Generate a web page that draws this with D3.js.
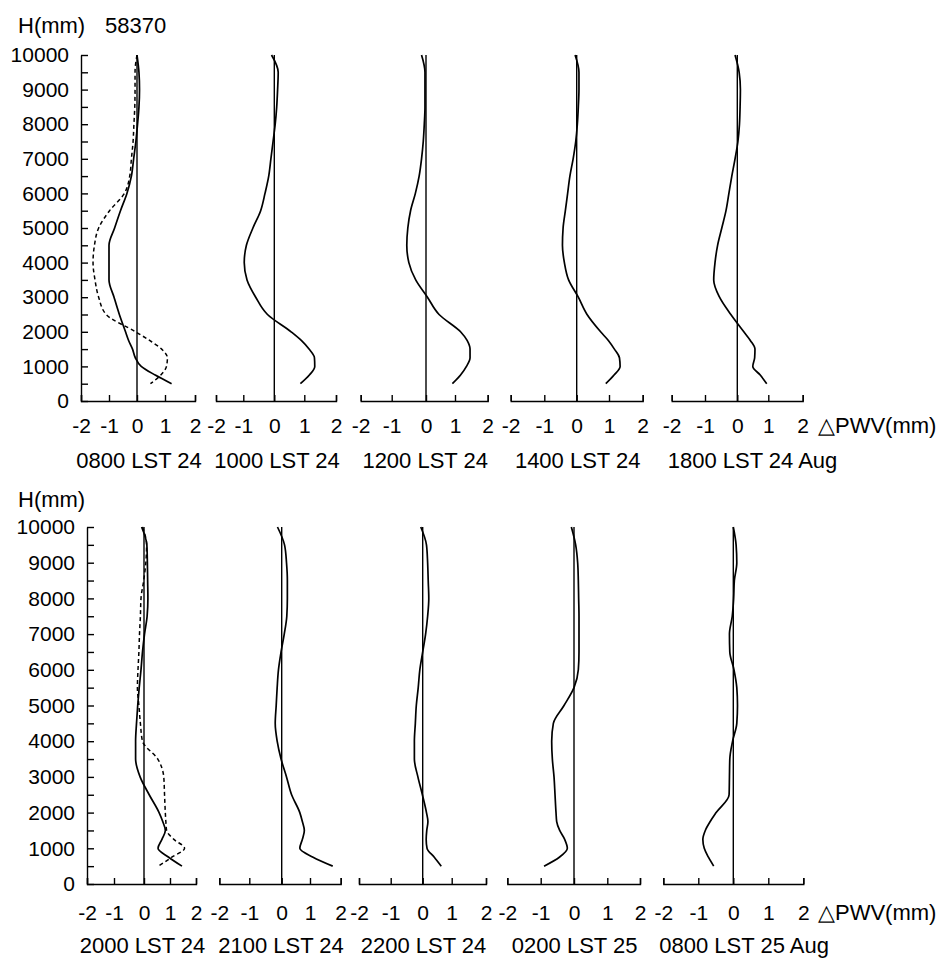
<!DOCTYPE html>
<html>
<head>
<meta charset="utf-8">
<script src="https://cdn.jsdelivr.net/npm/d3@7"></script>
<style>
body { margin: 0; background: #fff; }
svg text { font-family: "Liberation Sans", Arial, sans-serif; fill: #000; }
</style>
</head>
<body>
<svg width="948" height="958"></svg>
<script>
// heights (mm) shared by every profile, top to bottom
var heights = [10000, 9500, 9000, 8500, 8000, 7500, 7000, 6500, 6000, 5500, 5000,
               4500, 4000, 3500, 3000, 2500, 2000, 1750, 1500, 1250, 1000, 750, 500];

var xTicks = [-2, -1, 0, 1, 2];
var yTicks = d3.range(0, 10001, 500);
var station = "58370";
var topLabels = ["0800 LST 24", "1000 LST 24", "1200 LST 24", "1400 LST 24", "1800 LST 24 Aug"];
var bottomLabels = ["2000 LST 24", "2100 LST 24", "2200 LST 24", "0200 LST 25", "0800 LST 25 Aug"];

// delta PWV (mm) profiles, solid lines
var pwv0800_24 = [0.0, 0.07, 0.09, 0.07, 0.02, -0.04, -0.12, -0.2, -0.36, -0.59, -0.8,
                  -1.0, -1.0, -1.0, -0.82, -0.63, -0.41, -0.3, -0.16, -0.06, 0.15, 0.65, 1.22];
var pwv1000_24 = [-0.09, 0.13, 0.11, 0.08, 0.03, -0.04, -0.11, -0.18, -0.3, -0.44, -0.69,
                  -0.9, -0.97, -0.88, -0.6, -0.22, 0.56, 0.9, 1.15, 1.32, 1.33, 1.16, 0.87];
var pwv1200_24 = [-0.13, -0.03, -0.03, -0.03, -0.05, -0.08, -0.13, -0.2, -0.31, -0.45, -0.53,
                  -0.56, -0.5, -0.3, 0.05, 0.45, 1.17, 1.37, 1.46, 1.46, 1.35, 1.17, 0.91];
var pwv1400_24 = [-0.05, 0.07, 0.07, 0.05, 0.02, -0.03, -0.11, -0.21, -0.28, -0.35, -0.42,
                  -0.44, -0.38, -0.25, 0.05, 0.32, 0.74, 0.98, 1.16, 1.31, 1.33, 1.15, 0.9];
var pwv1800_24 = [-0.07, 0.06, 0.1, 0.09, 0.07, 0.02, -0.07, -0.17, -0.26, -0.35, -0.48,
                  -0.61, -0.69, -0.73, -0.55, -0.2, 0.21, 0.42, 0.57, 0.56, 0.5, 0.74, 0.95];
var pwv2000_24 = [-0.08, 0.11, 0.13, 0.14, 0.15, 0.12, 0.02, -0.05, -0.1, -0.16, -0.21,
                  -0.25, -0.28, -0.28, -0.13, 0.2, 0.58, 0.72, 0.82, 0.69, 0.54, 0.95, 1.46];
var pwv2100_24 = [-0.13, 0.1, 0.17, 0.2, 0.2, 0.18, 0.09, -0.02, -0.1, -0.14, -0.17,
                  -0.2, -0.14, -0.02, 0.17, 0.35, 0.64, 0.73, 0.8, 0.73, 0.64, 1.1, 1.74];
var pwv2200_24 = [-0.06, 0.13, 0.17, 0.19, 0.21, 0.17, 0.1, 0.0, -0.09, -0.14, -0.2,
                  -0.23, -0.26, -0.26, -0.15, -0.01, 0.13, 0.18, 0.14, 0.12, 0.15, 0.4, 0.64];
var pwv0200_25 = [-0.08, 0.05, 0.11, 0.13, 0.14, 0.15, 0.15, 0.15, 0.13, 0.0, -0.3,
                  -0.62, -0.67, -0.65, -0.6, -0.57, -0.54, -0.52, -0.43, -0.28, -0.2, -0.44, -0.9];
var pwv0800_25 = [0.0, 0.08, 0.1, 0.03, 0.01, -0.03, -0.11, -0.1, 0.02, 0.1, 0.12,
                  0.1, -0.02, -0.1, -0.11, -0.12, -0.49, -0.66, -0.8, -0.87, -0.83, -0.71, -0.56];

// dashed profiles
var pwv0800_24dash = [0.0, -0.07, -0.07, -0.08, -0.11, -0.14, -0.2, -0.26, -0.45, -0.98, -1.37,
                      -1.52, -1.57, -1.5, -1.37, -1.1, -0.05, 0.45, 0.88, 1.08, 1.05, 0.85, 0.48];
var pwv2000_24dash = [-0.05, 0.1, 0.07, -0.01, -0.1, -0.12, -0.15, -0.17, -0.2, -0.22, -0.17,
                      -0.12, -0.05, 0.53, 0.76, 0.79, 0.82, 0.84, 0.87, 1.15, 1.56, 1.07, 0.55];

var svg = d3.select("svg");

// tick positions of each small x axis (the panels are not evenly sized)
var topRanges = [[81, 109, 137, 165, 195], [216, 243.3, 274.3, 304.3, 336],
                 [360.7, 391.7, 426, 455, 487.7], [510.7, 544.3, 576.7, 609, 642.7],
                 [671.7, 705, 737.3, 768.3, 802.7]];
var bottomRanges = [[87, 114, 144, 170, 196], [219.3, 249.3, 281.7, 310, 340.7],
                    [359, 390.7, 422.7, 451.7, 486], [507.3, 540.7, 574, 607.3, 640],
                    [663.3, 698.3, 733.3, 768.3, 803.3]];

var rows = [
    {yRange: [401, 55], ranges: topRanges, labels: topLabels, headY: 33, tickPad: 17, labelY: 468,
     solid: [pwv0800_24, pwv1000_24, pwv1200_24, pwv1400_24, pwv1800_24],
     dashed: [pwv0800_24dash, null, null, null, null], station: true},
    {yRange: [884, 527], ranges: bottomRanges, labels: bottomLabels, headY: 507, tickPad: 21, labelY: 953,
     solid: [pwv2000_24, pwv2100_24, pwv2200_24, pwv0200_25, pwv0800_25],
     dashed: [pwv2000_24dash, null, null, null, null], station: false}
];

rows.forEach(function(row) {
    var y = d3.scaleLinear().domain([0, 10000]).range(row.yRange);
    var left = row.ranges[0][0];

    svg.append("text").attr("x", 18).attr("y", row.headY).attr("font-size", 22).text("H(mm)");
    if (row.station) {
        svg.append("text").attr("x", 105).attr("y", row.headY).attr("font-size", 22).text(station);
    }

    // height axis
    var yAxis = svg.append("g")
        .attr("transform", "translate(" + left + ",0)")
        .call(d3.axisLeft(y).tickValues(yTicks).tickSizeInner(-7).tickSizeOuter(0).tickPadding(12)
            .tickFormat(function(d) { return d % 1000 === 0 ? d : ""; }))
        .attr("font-size", 21).attr("font-family", null);
    yAxis.selectAll("path, line").attr("stroke-width", 1.4);

    row.ranges.forEach(function(range, i) {
        var x = d3.scaleLinear().domain(xTicks).range(range);

        var xAxis = svg.append("g")
            .attr("transform", "translate(0," + row.yRange[0] + ")")
            .call(d3.axisBottom(x).tickValues(xTicks).tickFormat(function(d) { return String(d); })
                .tickSizeInner(-6).tickSizeOuter(-6).tickPadding(row.tickPad))
            .attr("font-size", 21).attr("font-family", null);
        xAxis.selectAll("path, line").attr("stroke-width", 1.4);

        // zero reference line
        svg.append("line")
            .attr("x1", x(0)).attr("x2", x(0))
            .attr("y1", y(0)).attr("y2", y(10000))
            .attr("stroke", "#000").attr("stroke-width", 1.4);

        var line = d3.line()
            .x(function(d) { return x(d); })
            .y(function(d, j) { return y(heights[j]); })
            .curve(d3.curveMonotoneY);

        svg.append("path").datum(row.solid[i])
            .attr("d", line)
            .attr("fill", "none").attr("stroke", "#000").attr("stroke-width", 1.7);

        if (row.dashed[i]) {
            svg.append("path").datum(row.dashed[i])
                .attr("d", line)
                .attr("fill", "none").attr("stroke", "#000").attr("stroke-width", 1.5)
                .attr("stroke-dasharray", "4,3");
        }

        var last = i === row.ranges.length - 1;
        svg.append("text")
            .attr("x", last ? range[0] - 4 : (range[0] + range[4]) / 2 + 1)
            .attr("y", row.labelY)
            .attr("font-size", 22)
            .attr("text-anchor", last ? "start" : "middle")
            .text(row.labels[i]);
    });

    svg.append("text")
        .attr("x", 818).attr("y", row.yRange[0] + row.tickPad + 15)
        .attr("font-size", 22)
        .text("\u25B3PWV(mm)");
});
</script>
</body>
</html>
